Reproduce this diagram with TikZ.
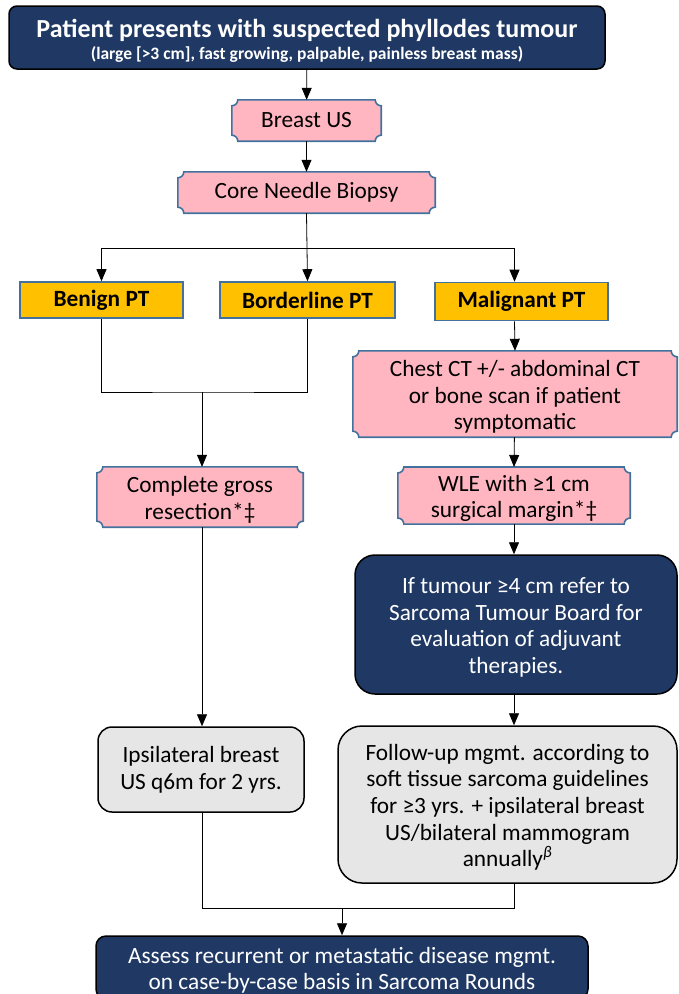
\documentclass[tikz,border=0pt]{standalone}
\usepackage{fontspec}
\setmainfont{Carlito}
\usetikzlibrary{arrows.meta,backgrounds,calc}
\definecolor{navy}{HTML}{1F3864}
\definecolor{pinkfill}{HTML}{FFB6C1}
\definecolor{blueedge}{HTML}{41719C}
\definecolor{gold}{HTML}{FFC000}
\definecolor{greyfill}{HTML}{E7E6E6}
\def\plqr{6pt}
\newcommand\tst{\rule{0pt}{24pt}}
\newcommand\bst{\rule[-6pt]{0pt}{0pt}}
\newcommand\plaquebox[1]{%
  \path[fill=pinkfill, draw=blueedge, line width=1.6pt]
  ($(#1.north west)+(\plqr,0)$) -- ($(#1.north east)+(-\plqr,0)$)
  arc[start angle=180,end angle=270,radius=\plqr]
  -- ($(#1.south east)+(0,\plqr)$)
  arc[start angle=90,end angle=180,radius=\plqr]
  -- ($(#1.south west)+(\plqr,0)$)
  arc[start angle=0,end angle=90,radius=\plqr]
  -- ($(#1.north west)+(0,-\plqr)$)
  arc[start angle=270,end angle=360,radius=\plqr]
  -- cycle;}
\begin{document}
\begin{tikzpicture}[x=1pt,y=-1pt,
  box/.style={inner sep=0pt, align=center, font=\fontsize{23.3}{26.7}\selectfont},
  plaq/.style={box},
  navybox/.style={box, draw=black, line width=1.5pt, fill=navy, text=white},
  goldbox/.style={box, draw=blueedge, line width=1.6pt, fill=gold, font=\bfseries\fontsize{23.3}{24}\selectfont},
  greybox/.style={box, draw=black, line width=1.5pt, fill=greyfill},
  conn/.style={draw=black, line width=0.8pt},
  arr/.style={conn, -{Triangle[width=10pt,length=12pt]}}]
\useasboundingbox (0,0) rectangle (678,994);

\node[navybox, rounded corners=8pt, minimum width=596pt, minimum height=63pt,
  font=\bfseries\fontsize{17.5}{22}\selectfont] (top) at (307,37.5)
  {\rule{0pt}{25pt}{\fontsize{26}{22}\selectfont Patient presents with suspected phyllodes tumour}\\
   (large [>3 cm], fast growing, palpable, painless breast mass)};

\node[plaq, minimum width=149pt, minimum height=41pt] (us) at (306.5,120.5) {Breast US};
\node[plaq, minimum width=257pt, minimum height=41pt] (cnb) at (306.5,192.5) {Core Needle Biopsy};

\node[goldbox, minimum width=163pt, minimum height=36pt] (benign) at (101.5,300) {Benign PT};
\node[goldbox, minimum width=175pt, minimum height=36pt] (border) at (307.5,300) {Borderline PT};
\node[goldbox, minimum width=173pt, minimum height=38pt] (malig) at (521.5,301.5) {Malignant PT};

\node[plaq, minimum width=324pt, minimum height=86pt] (chest) at (515,394)
  {\tst Chest CT +/- abdominal CT\\or bone scan if patient\\symptomatic\bst};
\node[plaq, minimum width=232pt, minimum height=55pt] (wle) at (514,495.5)
  {\tst WLE with ≥1 cm\\surgical margin*‡\bst};
\node[plaq, minimum width=206pt, minimum height=60pt] (cgr) at (200,497)
  {\tst Complete gross\\resection*‡\bst};

\node[navybox, rounded corners=20pt, minimum width=322pt, minimum height=139pt] (tum) at (516,624.5)
  {\tst If tumour ≥4 cm refer to\\Sarcoma Tumour Board for\\evaluation of adjuvant\\therapies.\bst};

\node[greybox, rounded corners=14pt, minimum width=206pt, minimum height=85pt] (ipsi) at (201,769.5)
  {Ipsilateral breast\\US q6m for 2 yrs.};
\node[greybox, rounded corners=24pt, minimum width=339pt, minimum height=157pt] (fu) at (507.5,804.5)
  {\tst Follow-up mgmt. according to\\soft tissue sarcoma guidelines\\for ≥3 yrs. + ipsilateral breast\\US/bilateral mammogram\\annually\textsuperscript{\textit{β}}\bst};

\node[navybox, rounded corners=10pt, minimum width=492pt, minimum height=63pt] (bot) at (342,967.5)
  {\tst Assess recurrent or metastatic disease mgmt.\\on case-by-case basis in Sarcoma Rounds\bst};

\begin{scope}[on background layer]
  \foreach \n in {us,cnb,chest,wle,cgr} {\plaquebox{\n}}
\end{scope}

\coordinate (split) at (307,248);
\coordinate (merge) at (202,392);
\coordinate (join) at (342,908);

\draw[arr] (top) -- (us);
\draw[arr] (us) -- (cnb);
\draw[conn] (cnb.south) -- (split);
\draw[arr] (split) -| (benign.north);
\draw[arr] (split) -- (border.north);
\draw[arr] (split) -| ([xshift=-7pt]malig.north);
\draw[conn] (benign.south) |- (merge) -| (border.south);
\draw[arr] (merge) -- ([xshift=2pt]cgr.north);
\draw[arr] ([xshift=-7pt]malig.south) -- (chest.north);
\draw[arr] (chest) -- (wle.north);
\draw[arr] (wle.south) -- ([xshift=-2pt]tum.north);
\draw[arr] ([xshift=-2pt]tum.south) -- ([xshift=6.5pt]fu.north);
\draw[arr] ([xshift=2pt]cgr.south) -- ([xshift=1pt]ipsi.north);
\draw[conn] ([xshift=1pt]ipsi.south) |- (join) -| ([xshift=6.5pt]fu.south);
\draw[arr] (join) -- (bot.north);
\end{tikzpicture}
\end{document}
